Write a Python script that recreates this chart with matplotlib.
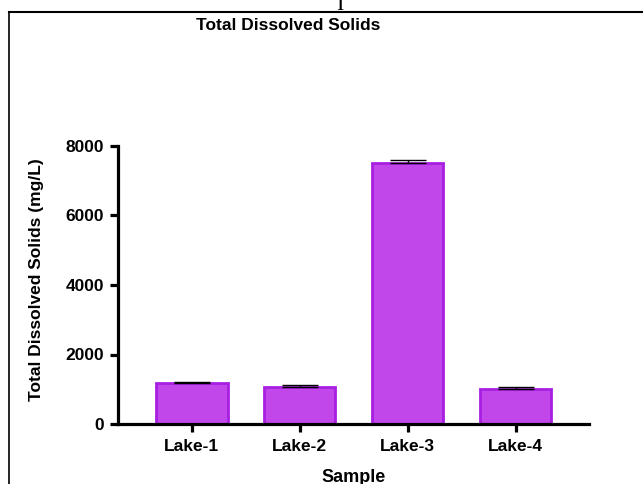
import matplotlib
matplotlib.use("Agg")
import matplotlib.pyplot as plt
from matplotlib.lines import Line2D
import numpy as np

categories = ["Lake-1", "Lake-2", "Lake-3", "Lake-4"]
tds_mean = [1170, 1060, 7500, 1010]
tds_err = [30, 55, 90, 45]
y_ticks = [0, 2000, 4000, 6000, 8000]

plt.rcParams['font.family'] = ['Liberation Sans', 'DejaVu Sans']

W, H = 643, 484
fig = plt.figure(figsize=(W / 100, H / 100), dpi=100)
ax = fig.add_axes([118 / W, 1 - 424 / H, (589 - 118) / W, (424 - 146) / H])

x = np.arange(len(categories))
ax.bar(x, tds_mean, width=0.66, color='#C247EA', edgecolor='#A81FE2',
       linewidth=2, zorder=2)
ax.errorbar(x, tds_mean, yerr=[np.zeros(len(tds_err)), tds_err], fmt='none',
            ecolor='black', elinewidth=1, capsize=13, capthick=1, zorder=3)

ax.set_xlim(-0.685, 3.68)
ax.set_ylim(0, 8000)
ax.set_yticks(y_ticks)
ax.set_xticks(x)
ax.set_xticklabels(categories)

for s in ['top', 'right']:
    ax.spines[s].set_visible(False)
for s in ['left', 'bottom']:
    ax.spines[s].set_linewidth(2.3)
    ax.spines[s].set_capstyle('projecting')

ax.tick_params(axis='y', length=6, width=2.3, pad=4, labelsize=12.5)
ax.tick_params(axis='x', length=5.5, width=2.3, pad=5, labelsize=12.5)
for lab in ax.get_xticklabels() + ax.get_yticklabels():
    lab.set_fontweight('bold')

ax.set_ylabel("Total Dissolved Solids (mg/L)", fontsize=12.5, fontweight='bold')
ax.yaxis.set_label_coords(-0.157, 0.52)
ax.set_xlabel("Sample", fontsize=13, fontweight='bold')
ax.xaxis.set_label_coords(0.5, -0.162)

fig.text(288 / W, 1 - 26 / H, "Total Dissolved Solids", ha='center', va='center',
         fontsize=12.5, fontweight='bold')

# page frame around the figure
fig.add_artist(Line2D([9 / W, 9 / W], [0, 1 - 12 / H], transform=fig.transFigure,
                      color='black', linewidth=1.2))
fig.add_artist(Line2D([9 / W, 1], [1 - 12 / H, 1 - 12 / H], transform=fig.transFigure,
                      color='black', linewidth=1.5))
# fragment of page text above the frame
fig.text(340 / W, 1 - 9.5 / H, "I", ha='center', va='baseline',
         fontsize=16, family='Liberation Serif')

fig.savefig("out.png", dpi=100)
